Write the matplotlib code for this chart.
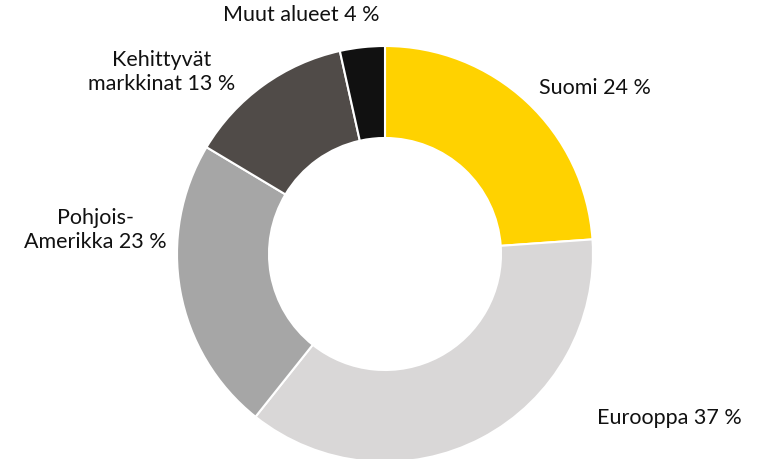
import matplotlib.pyplot as plt

# Data
labels = ["Suomi 24 %", "Eurooppa 37 %", "Pohjois-\nAmerikka 23 %",
          "Kehittyvät\nmarkkinat 13 %", "Muut alueet 4 %"]
shares = [24, 37, 23, 13, 3.5]
colors = ["#FFD200", "#D9D7D7", "#A6A6A6", "#504B48", "#111111"]

W, H = 763, 460
fig = plt.figure(figsize=(W / 100, H / 100), dpi=100, facecolor="white")
ax = fig.add_axes([0, 0, 1, 1])

cx, cy, r = 385, H - 255, 208
ax.pie(shares, colors=colors, startangle=90, counterclock=False,
       center=(cx, cy), radius=r, frame=True,
       wedgeprops=dict(width=92, edgecolor="white", linewidth=1.5))
ax.set_xlim(0, W)
ax.set_ylim(0, H)
ax.set_aspect("equal")
ax.axis("off")

font = dict(family="Lato", fontsize=15.5, color="#111111")
# label positions in pixel coords (x, y from top), alignment
pos = [(539, 88, "left"), (597, 418, "left"), (95, 230, "center"),
       (162, 72, "center"), (301, 15, "center")]
for lab, (x, y, ha) in zip(labels, pos):
    ax.text(x, H - y, lab, ha=ha, va="center", linespacing=1.2, **font)

fig.savefig("out.png", dpi=100, facecolor="white")
